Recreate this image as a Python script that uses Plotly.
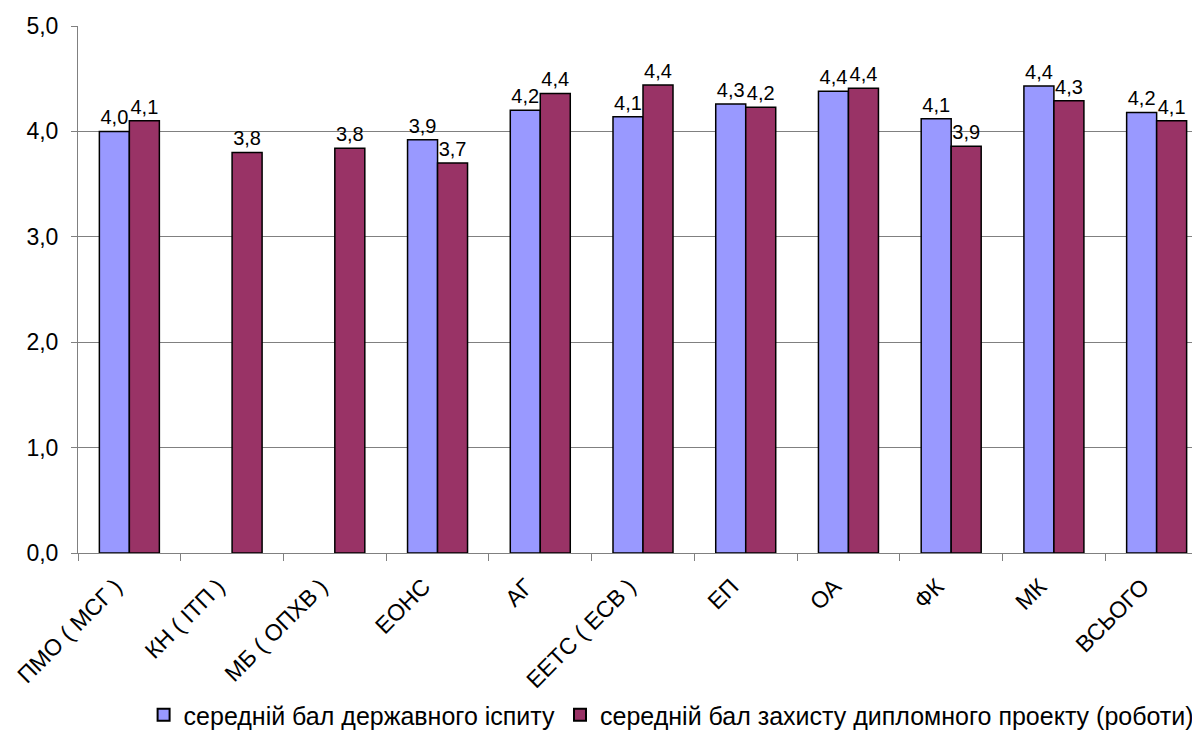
import plotly.graph_objects as go

categories = ["ПМО ( МСГ )", "КН ( ІТП )", "МБ ( ОПХВ )", "ЕОНС", "АГ", "ЕЕТС ( ЕСВ )",
              "ЕП", "ОА", "ФК", "МК", "ВСЬОГО"]
exam_scores = [4.00, None, None, 3.92, 4.20, 4.14, 4.26, 4.38, 4.12, 4.43, 4.18]
project_scores = [4.10, 3.80, 3.84, 3.70, 4.36, 4.44, 4.23, 4.41, 3.86, 4.29, 4.10]
series_names = ["середній бал державного іспиту",
                "середній бал захисту дипломного проекту (роботи)"]
y_ticks = [0, 1, 2, 3, 4, 5]

FONT = "Liberation Sans, Arial, sans-serif"

fig = go.Figure()
fig.add_trace(go.Bar(
    x=categories, y=exam_scores, name=series_names[0],
    marker=dict(color="#9999FF", line=dict(color="black", width=1.5)),
    texttemplate="%{y:.1f}", textposition="outside", cliponaxis=False,
    textfont=dict(size=20, color="black", family=FONT),
))
fig.add_trace(go.Bar(
    x=categories, y=project_scores, name=series_names[1],
    marker=dict(color="#993366", line=dict(color="black", width=1.5)),
    texttemplate="%{y:.1f}", textposition="outside", cliponaxis=False,
    textfont=dict(size=20, color="black", family=FONT),
))

fig.update_layout(
    width=1200, height=749,
    margin=dict(l=70, r=0, t=18, b=204),
    paper_bgcolor="white", plot_bgcolor="white",
    barmode="group", bargap=0.416, bargroupgap=0,
    separators=", ",
    font=dict(family=FONT, size=22, color="black"),
    showlegend=True,
    legend=dict(orientation="h", xanchor="center", xref="container", x=0.553,
                yref="container", y=0.056, yanchor="middle",
                font=dict(size=25, family=FONT),
                itemsizing="constant", traceorder="normal", itemwidth=30),
    xaxis=dict(
        range=[-0.5, 10.5], tickangle=-45, ticks="outside", ticklen=7,
        tickson="boundaries", tickcolor="#808080", showline=True,
        linecolor="#808080", linewidth=1, showgrid=False, automargin=False,
        ticklabelshift=-14, ticklabelstandoff=10,
        tickfont=dict(size=23, family=FONT, color="black"),
    ),
    yaxis=dict(
        range=[0, 5], tickvals=y_ticks, tickformat=".1f",
        ticks="outside", ticklen=6, tickcolor="#808080",
        showline=True, linecolor="#808080", linewidth=1,
        showgrid=True, gridcolor="#808080", gridwidth=1,
        zeroline=False, ticklabelstandoff=8, automargin=False,
        tickfont=dict(size=23, family=FONT, color="black"),
    ),
)

fig.write_html("out.html")
